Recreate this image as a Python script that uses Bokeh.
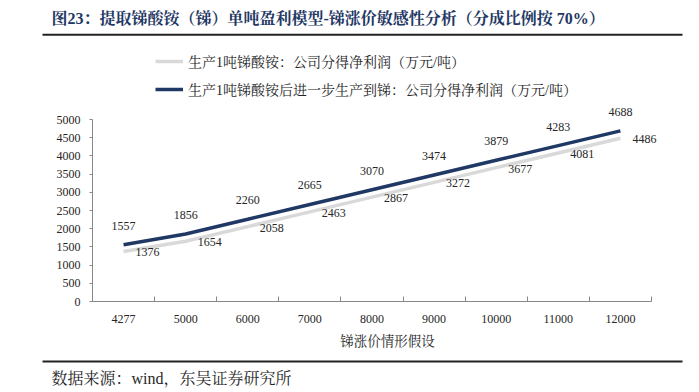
from bokeh.plotting import figure
from bokeh.layouts import column
from bokeh.models import (Range1d, FixedTicker, Legend, LegendItem, ColumnDataSource)
from bokeh.core.properties import value
from bokeh.embed import file_html
from bokeh.resources import INLINE

# ---- data ----
categories = ["4277", "5000", "6000", "7000", "8000", "9000", "10000", "11000", "12000"]
profit_ammonium = [1376, 1654, 2058, 2463, 2867, 3272, 3677, 4081, 4486]
profit_antimony = [1557, 1856, 2260, 2665, 3070, 3474, 3879, 4283, 4688]
y_ticks = [0, 500, 1000, 1500, 2000, 2500, 3000, 3500, 4000, 4500, 5000]
series_names = ["生产1吨锑酸铵：公司分得净利润（万元/吨）",
                "生产1吨锑酸铵后进一步生产到锑：公司分得净利润（万元/吨）"]
title_text = "图23：提取锑酸铵（锑）单吨盈利模型-锑涨价敏感性分析（分成比例按 70%）"
x_title = "锑涨价情形假设"
source_text = "数据来源：wind，东吴证券研究所"

SERIF = "'Liberation Serif', 'Noto Serif CJK SC', 'Noto Sans CJK SC'"
TXT = "#262626"
DARK = "#1f3864"
LIGHT = "#d9d9d9"
RULE = "#222222"
W = 690


def blank_fig(h):
    f = figure(width=W, height=h, output_backend="svg", toolbar_location=None,
               x_range=Range1d(0, W), y_range=Range1d(0, h),
               x_axis_type=None, y_axis_type=None, frame_align=False,
               min_border=0, min_border_left=0, min_border_right=0,
               min_border_top=0, min_border_bottom=0)
    f.outline_line_color = None
    f.grid.visible = False
    return f


# ---- header ----
top = blank_fig(50)
top.text(x=[51], y=[31.7], text=[title_text], text_font=value(SERIF),
         text_font_size="16px", text_font_style="bold", text_color=DARK,
         text_baseline="middle", text_align="left")
top.line(x=[42, 682], y=[15.7, 15.7], line_color=RULE, line_width=2)

# ---- main chart ----
idx = list(range(len(categories)))
src = ColumnDataSource(dict(
    x=idx, a=profit_ammonium, b=profit_antimony,
    a_lab=[str(v) for v in profit_ammonium],
    b_lab=[str(v) for v in profit_antimony],
))

p = figure(width=W, height=302, output_backend="svg", toolbar_location=None,
           x_range=Range1d(-0.5, len(categories)),
           y_range=Range1d(0, 6841), frame_align=False,
           min_border_left=92, min_border_right=8,
           min_border_top=2, min_border_bottom=51)
p.outline_line_color = None
p.grid.visible = False

r1 = p.line("x", "a", source=src, line_color=LIGHT, line_width=3.5)
r2 = p.line("x", "b", source=src, line_color=DARK, line_width=3.5)

p.text("x", "b", text="b_lab", source=src, text_align="center",
       text_baseline="middle", y_offset=-19, text_font=value(SERIF),
       text_font_size="12px", text_color=TXT)
p.text("x", "a", text="a_lab", source=src, text_align="left",
       text_baseline="middle", x_offset=12, y_offset=1, text_font=value(SERIF),
       text_font_size="12px", text_color=TXT)

xa = p.xaxis[0]
xa.ticker = FixedTicker(ticks=idx, minor_ticks=[i - 0.5 for i in range(len(categories) + 1)])
xa.bounds = (-0.5, len(categories) - 0.5)
xa.major_label_overrides = {i: c for i, c in enumerate(categories)}
xa.major_tick_line_color = None
xa.minor_tick_in = 5
xa.minor_tick_out = 0
xa.minor_tick_line_color = "#888888"
xa.axis_line_color = "#888888"
xa.major_label_standoff = 7
xa.major_label_text_font = SERIF
xa.major_label_text_font_size = "12px"
xa.major_label_text_color = TXT
xa.axis_label = x_title
xa.axis_label_text_font = SERIF
xa.axis_label_text_font_style = "normal"
xa.axis_label_text_font_size = "13.5px"
xa.axis_label_text_color = TXT
xa.axis_label_standoff = 8

ya = p.yaxis[0]
ya.ticker = FixedTicker(ticks=y_ticks)
ya.bounds = (0, 5000)
ya.major_tick_in = 0
ya.major_tick_out = 3
ya.major_tick_line_color = "#888888"
ya.minor_tick_line_color = None
ya.axis_line_color = "#888888"
ya.major_label_standoff = 9
ya.major_label_text_font = SERIF
ya.major_label_text_font_size = "12px"
ya.major_label_text_color = TXT

legend = Legend(items=[LegendItem(label=series_names[0], renderers=[r1]),
                       LegendItem(label=series_names[1], renderers=[r2])],
                location=(63, 202), orientation="vertical",
                padding=0, margin=0, spacing=8,
                glyph_width=28, glyph_height=16, label_height=16,
                label_standoff=5, border_line_color=None,
                background_fill_alpha=0,
                label_text_font=SERIF, label_text_font_size="14px",
                label_text_color=TXT)
p.add_layout(legend, "center")

# ---- footer ----
bot = blank_fig(36)
bot.line(x=[42, 682], y=[27, 27], line_color=RULE, line_width=2)
bot.text(x=[51], y=[9.7], text=[source_text], text_font=value(SERIF),
         text_font_size="16px", text_color=TXT,
         text_baseline="middle", text_align="left")

layout = column(top, p, bot, spacing=0)
open("out.html", "w").write(file_html(layout, INLINE))
